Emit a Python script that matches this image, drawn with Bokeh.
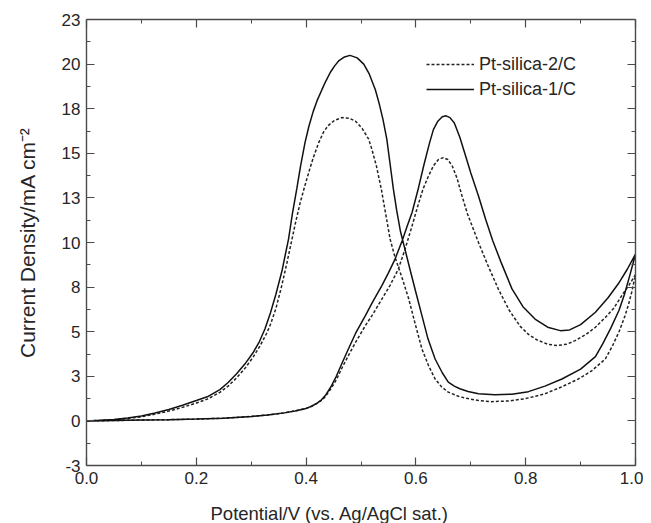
from bokeh.plotting import figure
from bokeh.models import (FixedTicker, LinearAxis, Range1d, Legend, LegendItem,
                          CustomJSTickFormatter, Title)
from bokeh.embed import file_html
from bokeh.resources import INLINE

# ---------------- data ----------------
# Pt-silica-1/C (solid): forward scan (0 -> 1 V)
s1_fwd_potential = [0.0, 0.05, 0.1, 0.15, 0.2, 0.25, 0.3, 0.33, 0.36, 0.38, 0.40, 0.41,
                    0.42, 0.428, 0.435, 0.445, 0.455, 0.465, 0.477, 0.49, 0.508, 0.52,
                    0.538, 0.55, 0.562, 0.575, 0.585, 0.593, 0.605, 0.615, 0.625, 0.632,
                    0.64, 0.648, 0.655, 0.662, 0.67, 0.68, 0.69, 0.70, 0.714, 0.727,
                    0.74, 0.755, 0.775, 0.795, 0.817, 0.84, 0.863, 0.88, 0.90, 0.927,
                    0.95, 0.969, 0.985, 1.0]
s1_fwd_current = [0.0, 0.02, 0.05, 0.07, 0.1, 0.15, 0.25, 0.33, 0.45, 0.56, 0.7, 0.82,
                  1.0, 1.18, 1.42, 1.9, 2.5, 3.2, 4.03, 4.9, 5.9, 6.6,
                  7.58, 8.3, 9.07, 10.1, 11.0, 11.68, 13.1, 14.4, 15.6, 16.34,
                  16.8, 17.05, 17.1, 17.0, 16.7, 15.9, 14.9, 13.9, 12.61, 11.3,
                  10.1, 8.9, 7.4, 6.4, 5.71, 5.25, 5.06, 5.1, 5.4, 6.09,
                  6.9, 7.7, 8.5, 9.35]
# Pt-silica-1/C (solid): reverse scan (1 -> 0 V)
s1_rev_potential = [0.99, 0.98, 0.97, 0.955, 0.94, 0.927, 0.90, 0.866, 0.835, 0.805,
                    0.775, 0.744, 0.714, 0.695, 0.68, 0.67, 0.659, 0.648, 0.635, 0.622,
                    0.611, 0.60, 0.59, 0.58, 0.572, 0.565, 0.559, 0.553, 0.547, 0.54,
                    0.533, 0.526, 0.515, 0.505, 0.493, 0.48, 0.47, 0.46, 0.452, 0.444,
                    0.436, 0.429, 0.42, 0.413, 0.405, 0.398, 0.39, 0.383, 0.375, 0.368,
                    0.362, 0.356, 0.345, 0.335, 0.325, 0.315, 0.304, 0.29, 0.273, 0.258,
                    0.243, 0.22, 0.2, 0.175, 0.15, 0.125, 0.1, 0.075, 0.05, 0.025, 0.0]
s1_rev_current = [8.2, 7.1, 6.2, 5.2, 4.3, 3.6, 2.9, 2.35, 1.95, 1.64,
                  1.5, 1.46, 1.52, 1.65, 1.8, 1.95, 2.17, 2.7, 3.47, 4.6,
                  5.9, 7.2, 8.4, 9.63, 10.6, 11.8, 12.99, 14.4, 15.79, 16.9,
                  17.8, 18.58, 19.45, 20.0, 20.35, 20.49, 20.4, 20.2, 19.9, 19.53,
                  19.05, 18.58, 17.95, 17.35, 16.5, 15.6, 14.3, 13.0, 11.6, 10.19,
                  9.3, 8.4, 7.1, 6.05, 5.15, 4.45, 3.85, 3.25, 2.63, 2.15,
                  1.75, 1.35, 1.14, 0.88, 0.64, 0.44, 0.28, 0.16, 0.08, 0.03, 0.0]

# Pt-silica-2/C (dashed): forward scan (0 -> 1 V)
s2_fwd_potential = [0.0, 0.05, 0.1, 0.15, 0.2, 0.25, 0.3, 0.33, 0.36, 0.38, 0.40, 0.41,
                    0.42, 0.428, 0.435, 0.445, 0.455, 0.465, 0.477, 0.49, 0.508, 0.52,
                    0.538, 0.553, 0.568, 0.58, 0.593, 0.603, 0.613, 0.623, 0.632, 0.641,
                    0.650, 0.658, 0.666, 0.675, 0.684, 0.694, 0.704, 0.714, 0.73, 0.75,
                    0.77, 0.79, 0.805, 0.82, 0.84, 0.857, 0.875, 0.89, 0.91, 0.927,
                    0.945, 0.96, 0.975, 0.988, 1.0]
s2_fwd_current = [0.0, 0.02, 0.05, 0.07, 0.1, 0.15, 0.25, 0.33, 0.45, 0.56, 0.7, 0.82,
                  0.98, 1.15, 1.35, 1.8, 2.3, 2.95, 3.66, 4.4, 5.34, 5.9,
                  6.83, 7.6, 8.51, 9.6, 10.93, 12.0, 13.0, 13.73, 14.3, 14.65,
                  14.76, 14.65, 14.3, 13.6, 12.61, 11.6, 10.8, 10.0, 8.8, 7.4,
                  6.2, 5.3, 4.85, 4.55, 4.3, 4.22, 4.3, 4.5, 4.85, 5.25,
                  5.8, 6.3, 7.02, 7.6, 8.2]
# Pt-silica-2/C (dashed): reverse scan (1 -> 0 V)
s2_rev_potential = [0.993, 0.987, 0.981, 0.97, 0.958, 0.945, 0.92, 0.896, 0.865, 0.835,
                    0.8, 0.77, 0.737, 0.714, 0.695, 0.68, 0.659, 0.647, 0.635, 0.623,
                    0.611, 0.599, 0.587, 0.575, 0.562, 0.553, 0.545, 0.537, 0.528, 0.52,
                    0.514, 0.502, 0.49, 0.478, 0.465, 0.452, 0.44, 0.432, 0.423, 0.413,
                    0.405, 0.397, 0.389, 0.381, 0.373, 0.365, 0.355, 0.345, 0.335, 0.328,
                    0.316, 0.304, 0.29, 0.273, 0.258, 0.243, 0.22, 0.2, 0.175, 0.15,
                    0.125, 0.1, 0.075, 0.05, 0.025, 0.0]
s2_rev_current = [7.2, 6.5, 5.9, 5.0, 4.2, 3.47, 2.8, 2.35, 1.9, 1.52,
                  1.25, 1.12, 1.08, 1.14, 1.25, 1.35, 1.61, 1.9, 2.35, 3.1,
                  4.03, 5.4, 6.83, 8.0, 9.17, 10.19, 11.6, 12.99, 14.3, 15.2,
                  15.79, 16.4, 16.8, 16.97, 17.0, 16.85, 16.55, 16.2, 15.6, 14.75,
                  13.95, 13.1, 12.2, 11.15, 10.0, 8.85, 7.5, 6.3, 5.4, 4.9,
                  4.2, 3.6, 3.0, 2.4, 1.95, 1.6, 1.22, 1.0, 0.76, 0.55,
                  0.38, 0.23, 0.14, 0.07, 0.03, 0.0]

series_names = ["Pt-silica-2/C", "Pt-silica-1/C"]

x_ticks = [0.0, 0.2, 0.4, 0.6, 0.8, 1.0]
x_minor = [0.1, 0.3, 0.5, 0.7, 0.9]
x_tick_labels = ["0.0", "0.2", "0.4", "0.6", "0.8", "1.0"]
y_ticks = [-2.5, 0.0, 2.5, 5.0, 7.5, 10.0, 12.5, 15.0, 17.5, 20.0, 22.5]
y_minor = [-1.25, 1.25, 3.75, 6.25, 8.75, 11.25, 13.75, 16.25, 18.75, 21.25]
y_tick_labels = ["-3", "0", "3", "5", "8", "10", "13", "15", "18", "20", "23"]

x_title = "Potential/V (vs. Ag/AgCl sat.)"
y_title = "Current Density/mA cm\u207b\u00b2"

# ---------------- figure ----------------
FONT = "Liberation Sans"
TXT = "#262626"
AX = "#4a4a4a"

p = figure(frame_width=549, frame_height=446,
           min_border_left=86, min_border_top=19, min_border_right=8, min_border_bottom=20,
           x_range=Range1d(0.0, 1.0), y_range=Range1d(-2.5, 22.5),
           output_backend="svg", toolbar_location=None,
           x_axis_location=None, y_axis_location=None)
p.xgrid.visible = False
p.ygrid.visible = False
p.outline_line_color = None
p.background_fill_color = "white"
p.border_fill_color = "white"

xt = FixedTicker(ticks=x_ticks, minor_ticks=x_minor)
yt = FixedTicker(ticks=y_ticks, minor_ticks=y_minor)
blank = CustomJSTickFormatter(code="return ''")


def style(ax, labels=True):
    ax.axis_line_color = AX
    ax.axis_line_width = 1.4
    ax.major_tick_line_color = AX
    ax.minor_tick_line_color = AX
    ax.major_tick_line_width = 1.2
    ax.minor_tick_line_width = 1.0
    ax.major_tick_in = 8
    ax.major_tick_out = 0
    ax.minor_tick_in = 4
    ax.minor_tick_out = 0
    if labels:
        ax.major_label_text_font = FONT
        ax.major_label_text_font_size = "17px"
        ax.major_label_text_color = TXT
        ax.axis_label_text_font = FONT
        ax.axis_label_text_font_size = "18px"
        ax.axis_label_text_font_style = "normal"
        ax.axis_label_text_color = TXT
    else:
        ax.formatter = blank
        ax.major_label_text_font_size = "0px"
        ax.major_label_standoff = 0


xb = LinearAxis(ticker=xt)
xb.major_label_overrides = {t: l for t, l in zip(x_ticks, x_tick_labels)}
style(xb)
xb.major_label_standoff = 6
p.add_layout(xb, "below")

# invisible spacer axis to push the x title down
spacer = LinearAxis(ticker=xt, formatter=blank)
spacer.axis_line_color = None
spacer.major_tick_line_color = None
spacer.minor_tick_line_color = None
spacer.major_tick_in = 0
spacer.major_tick_out = 12
spacer.minor_tick_in = 0
spacer.minor_tick_out = 0
spacer.major_label_text_font_size = "0px"
spacer.major_label_standoff = 0
p.add_layout(spacer, "below")

# x-axis title (placed left of centre, as in the original figure)
xtitle = Title(text=x_title, align="left", offset=124, standoff=4,
               text_font=FONT, text_font_size="18.5px", text_font_style="normal",
               text_color=TXT)
p.add_layout(xtitle, "below")

yl = LinearAxis(ticker=yt, axis_label=y_title)
yl.major_label_overrides = {t: l for t, l in zip(y_ticks, y_tick_labels)}
style(yl)
yl.axis_label_text_font_size = "21px"
yl.major_label_standoff = 6
yl.axis_label_standoff = 20
p.add_layout(yl, "left")

xa = LinearAxis(ticker=xt)
style(xa, labels=False)
p.add_layout(xa, "above")

yr = LinearAxis(ticker=yt)
style(yr, labels=False)
p.add_layout(yr, "right")

r2 = p.line(s2_fwd_potential + s2_rev_potential, s2_fwd_current + s2_rev_current,
            line_color="#222222", line_width=1.5, line_dash="3 2")
r1 = p.line(s1_fwd_potential + s1_rev_potential, s1_fwd_current + s1_rev_current,
            line_color="#111111", line_width=1.5)

legend = Legend(items=[LegendItem(label=series_names[0], renderers=[r2]),
                       LegendItem(label=series_names[1], renderers=[r1])],
                location=(340, 365))
legend.label_text_font = FONT
legend.label_text_font_size = "18px"
legend.label_text_color = TXT
legend.glyph_width = 48
legend.glyph_height = 22
legend.label_height = 22
legend.label_standoff = 5
legend.spacing = 3
legend.padding = 0
legend.margin = 0
legend.border_line_color = None
legend.background_fill_alpha = 0
p.add_layout(legend, "center")

open("out.html", "w").write(file_html(p, INLINE))
